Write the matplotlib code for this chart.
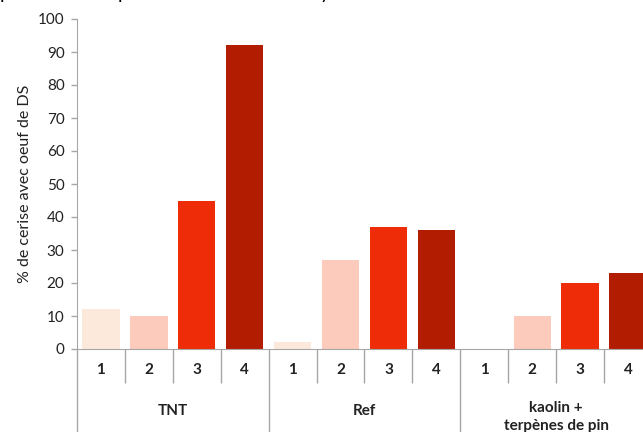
import matplotlib
matplotlib.use("Agg")
import matplotlib.pyplot as plt
from matplotlib.transforms import blended_transform_factory

plt.rcParams['font.family'] = ['Lato', 'DejaVu Sans']

groups = ["TNT", "Ref", "kaolin +\nterpènes de pin"]
classes = ["1", "2", "3", "4"]
values = {
    "TNT": [12, 10, 45, 92],
    "Ref": [2, 27, 37, 36],
    "kaolin +\nterpènes de pin": [0, 10, 20, 23],
}
class_colors = ["#FDE9DB", "#FCCBBC", "#EE2C08", "#B21D02"]
yticks = [0, 10, 20, 30, 40, 50, 60, 70, 80, 90, 100]
ylabel = "% de cerise avec oeuf de DS"

W, H = 643, 432
fig = plt.figure(figsize=(W / 100, H / 100), dpi=100)
ax = fig.add_axes([77 / W, (H - 349) / H, 575 / W, 330 / H])

axis_gray = "#A6A6A6"
text_col = "#222222"

n = len(classes)
for gi, g in enumerate(groups):
    xs = [gi * n + k for k in range(n)]
    ax.bar(xs, values[g], width=0.78, color=class_colors, linewidth=0)

ax.set_xlim(-0.5, len(groups) * n - 0.5)
ax.set_ylim(0, 100)
ax.set_yticks(yticks)
ax.set_yticklabels([str(t) for t in yticks], fontsize=11, color=text_col)
ax.tick_params(axis='y', length=4, width=1, color=axis_gray, pad=5)
ax.set_xticks([])
for s in ("top", "right"):
    ax.spines[s].set_visible(False)
ax.spines["left"].set_color(axis_gray)
ax.spines["bottom"].set_color(axis_gray)
ax.set_ylabel(ylabel, fontsize=11.5, color=text_col, labelpad=4)

# multi-level category axis drawn below the plot area
tr = blended_transform_factory(ax.transData, ax.transAxes)
short = -34 / 330
long_ = -84 / 330
total = len(groups) * n
for b in range(total + 1):
    x = b - 0.5
    bottom = long_ if b % n == 0 else short
    ax.plot([x, x], [0, bottom], color=axis_gray, lw=1, transform=tr,
            clip_on=False, solid_capstyle='butt')
for gi, g in enumerate(groups):
    for k, c in enumerate(classes):
        ax.text(gi * n + k, -21 / 330, c, transform=tr, ha='center', va='center',
                fontsize=11, fontweight='bold', color=text_col)
    ax.text(gi * n + (n - 1) / 2, -62 / 330 if "\n" not in g else -68 / 330, g,
            transform=tr, ha='center', va='center', fontsize=11,
            fontweight='bold', color=text_col, linespacing=1.35)

# descenders of the line of text above the chart
for x, ch in [(5, "p"), (123, "p"), (325, "y")]:
    fig.text(x / W, 1 + 1 / H, ch, ha='center', va='baseline', fontsize=14,
             color="black")

fig.savefig("out.png", dpi=100)
